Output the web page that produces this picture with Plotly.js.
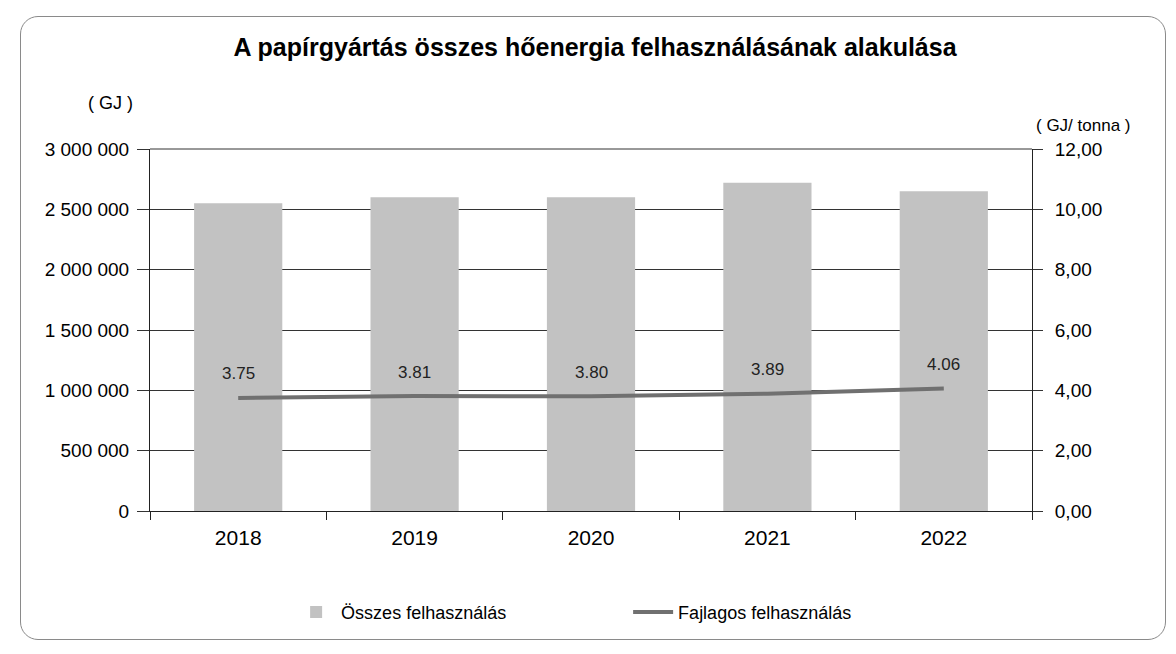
<!DOCTYPE html>
<html>
<head>
<meta charset="utf-8">
<script src="https://cdn.plot.ly/plotly-3.0.1.min.js"></script>
<style>
html,body{margin:0;padding:0;background:#fff;}
#wrap{position:relative;width:1176px;height:654px;}
#chart{position:absolute;left:0;top:0;width:1176px;height:654px;}
#frame{position:absolute;left:20px;top:16px;width:1144px;height:622px;border:1.5px solid #8a8a8a;border-radius:18px;pointer-events:none;}
</style>
</head>
<body>
<div id="wrap"><div id="chart"></div><div id="frame"></div></div>
<script>
const years = ["2018", "2019", "2020", "2021", "2022"];
const totalUse = [2550000, 2600000, 2600000, 2720000, 2650000];
const specificUse = [3.75, 3.81, 3.80, 3.89, 4.06];
const leftTicks = [0, 500000, 1000000, 1500000, 2000000, 2500000, 3000000];
const rightTicks = [0, 2, 4, 6, 8, 10, 12];

const font = "Liberation Sans, Arial, sans-serif";

const traces = [
  {
    type: "bar", x: years, y: totalUse, name: "Összes felhasználás",
    marker: {color: "#c2c2c2"}, width: 0.5, hoverinfo: "x+y"
  },
  {
    type: "scatter", mode: "lines", x: years, y: specificUse, yaxis: "y2",
    name: "Fajlagos felhasználás", line: {color: "#707070", width: 4}
  }
];

const annotations = years.map((yr, i) => ({
  x: i, y: specificUse[i], xref: "x", yref: "y2", text: specificUse[i].toFixed(2),
  showarrow: false, yshift: 24, font: {family: font, size: 17, color: "#222"}
}));
annotations.push({xref: "paper", yref: "paper", x: -0.045, y: 1.127, xanchor: "center", yanchor: "middle",
  text: "( GJ )", showarrow: false, font: {family: font, size: 18, color: "#000"}});
annotations.push({xref: "paper", yref: "paper", x: 1.058, y: 1.066, xanchor: "center", yanchor: "middle",
  text: "( GJ/ tonna )", showarrow: false, font: {family: font, size: 17, color: "#000"}});

const layout = {
  width: 1176, height: 654,
  margin: {l: 150, r: 144, t: 149, b: 143},
  paper_bgcolor: "#fff", plot_bgcolor: "#fff",
  separators: ", ",
  font: {family: font, color: "#000", size: 18},
  title: {text: "<b>A papírgyártás összes hőenergia felhasználásának alakulása</b>",
    x: 0.506, xanchor: "center", y: 0.928, yanchor: "middle",
    font: {family: font, size: 25, color: "#000"}},
  xaxis: {
    type: "category", range: [-0.5, 4.5], autorange: false,
    tickson: "boundaries", ticks: "outside", ticklen: 8, tickcolor: "#222",
    showline: true, linecolor: "#222", linewidth: 1,
    tickfont: {size: 21, color: "#000"}, ticklabelstandoff: 8, showgrid: false
  },
  yaxis: {
    range: [0, 3000000], autorange: false, tickvals: leftTicks, tickformat: ",d",
    showgrid: true, gridcolor: "#333", gridwidth: 1,
    ticks: "outside", ticklen: 12, tickcolor: "#333",
    showline: true, linecolor: "#222", linewidth: 1,
    tickfont: {size: 19, color: "#000"}, zeroline: false, ticklabelstandoff: 4
  },
  yaxis2: {
    range: [0, 12], autorange: false, tickvals: rightTicks, tickformat: ".2f",
    overlaying: "y", side: "right", showgrid: false,
    ticks: "outside", ticklen: 10, tickcolor: "#333",
    showline: true, linecolor: "#222", linewidth: 1,
    tickfont: {size: 19, color: "#000"}, zeroline: false, ticklabelstandoff: 8
  },
  shapes: [{type: "line", xref: "paper", yref: "paper", x0: 0, x1: 1, y0: 1, y1: 1,
    line: {color: "#333", width: 1}}],
  showlegend: true,
  legend: {orientation: "h", x: 0.16, xanchor: "left", y: -0.28, yanchor: "middle",
    font: {size: 18, color: "#000"}, itemwidth: 40, entrywidth: 282, entrywidthmode: "pixels",
    traceorder: "normal", bgcolor: "rgba(0,0,0,0)"},
  annotations: annotations
};

Plotly.newPlot("chart", traces, layout, {displayModeBar: false, staticPlot: true});
</script>
</body>
</html>
